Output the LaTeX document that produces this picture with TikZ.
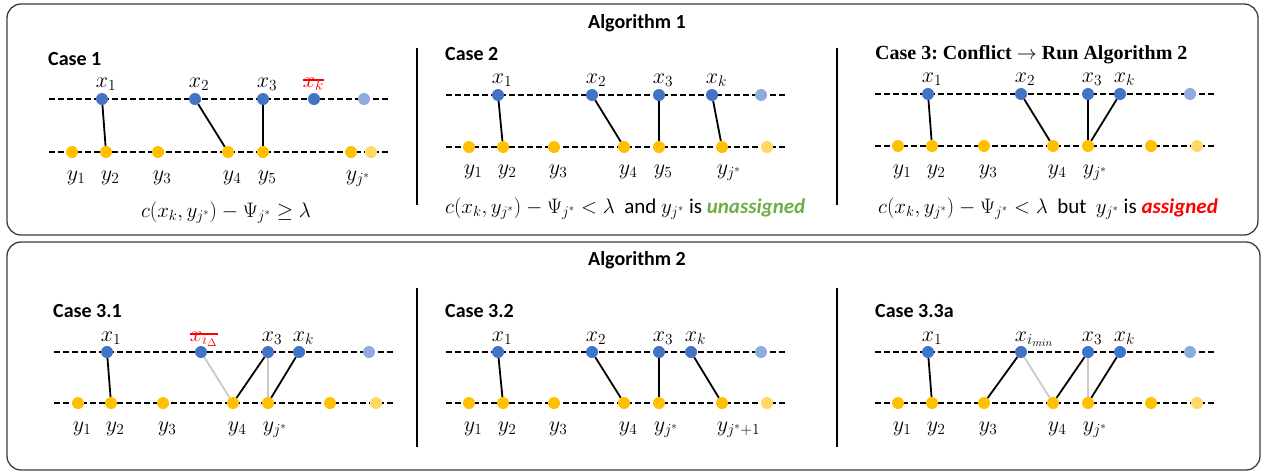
\RequirePackage{fix-cm}
\documentclass[tikz,border=0pt]{standalone}
\usepackage{fontspec}
\setmainfont{Carlito}
\newfontfamily\serifbold{Liberation Serif}
\definecolor{dblue}{HTML}{4472C4}
\definecolor{lblue}{HTML}{8FAADC}
\definecolor{dyel}{HTML}{FFC000}
\definecolor{lyel}{HTML}{FFD966}
\definecolor{egray}{HTML}{CACACA}
\definecolor{okgreen}{HTML}{70AD47}
\definecolor{boxgray}{HTML}{3C3C3C}
\tikzset{
  bdot/.style={circle,fill=dblue,inner sep=0,minimum size=12pt},
  lbdot/.style={circle,fill=lblue,inner sep=0,minimum size=12pt},
  ydot/.style={circle,fill=dyel,inner sep=0,minimum size=12pt},
  lydot/.style={circle,fill=lyel,inner sep=0,minimum size=12pt},
  dline/.style={black,line width=1.1pt,dash pattern=on 5.5pt off 3.5pt},
  medge/.style={black,line width=1.8pt},
  gedge/.style={egray,line width=1.8pt},
  lbl/.style={inner sep=0,font=\fontsize{22}{26}\selectfont},
  xlab/.style={lbl,anchor=base west,xshift=-6.3pt},
  ylab/.style={lbl,anchor=base west,xshift=-5.4pt},
  title/.style={inner sep=0,font=\fontsize{20}{24}\selectfont\bfseries},
  case/.style={inner sep=0,anchor=base west,font=\fontsize{20}{24}\selectfont\bfseries},
  frm/.style={inner sep=0,anchor=base west,font=\fontsize{21}{25}\selectfont},
  sepline/.style={black,line width=1.3pt},
  panelbox/.style={boxgray,line width=1.3pt,rounded corners=14pt},
  strike/.style={red,line width=1.2pt}
}
\begin{document}
\begin{tikzpicture}[x=1pt,y=-1pt]
\useasboundingbox (0,0) rectangle (1263,472);
% boxes
\draw[panelbox] (7,4) rectangle (1258,235);
\draw[panelbox] (7,242) rectangle (1260,470);
\node[title] (t1) at (637,23) {Algorithm 1};
\node[title] (t2) at (637,260) {Algorithm 2};
\draw[sepline] (417,48) -- (417,205);
\draw[sepline] (837,48) -- (837,205);
\draw[sepline] (417,288) -- (417,447);
\draw[sepline] (837,288) -- (837,447);

% ================= Panel 1: Case 1
\node[case] (a-c) at (48,65) {Case 1};
\draw[dline] (49,99) -- (389,99);
\draw[dline] (49,152) -- (389,152);
\node[bdot] (a-x1) at (102,99) {};
\node[bdot] (a-x2) at (195,99) {};
\node[bdot] (a-x3) at (263,99) {};
\node[bdot] (a-xk) at (314,99) {};
\node[lbdot] (a-xe) at (364,99) {};
\node[ydot] (a-y1) at (72,152) {};
\node[ydot] (a-y2) at (106,152) {};
\node[ydot] (a-y3) at (158,152) {};
\node[ydot] (a-y4) at (228,152) {};
\node[ydot] (a-y5) at (263,152) {};
\node[ydot] (a-y6) at (351,152) {};
\node[lydot] (a-ye) at (371,152) {};
\draw[medge] (a-x1) -- (a-y2);
\draw[medge] (a-x2) -- (a-y4);
\draw[medge] (a-x3) -- (a-y5);
\node[xlab] (a-lx1) at (102,87) {$x_1$};
\node[xlab] (a-lx2) at (195,87) {$x_2$};
\node[xlab] (a-lx3) at (263,87) {$x_3$};
\node[xlab,text=red] (a-lxk) at (309,87) {$x_k$};
\draw[strike] ([yshift=7pt]a-lxk.base west) -- ([yshift=7pt]a-lxk.base east);
\node[ylab] (a-ly1) at (72,180) {$y_1$};
\node[ylab] (a-ly2) at (106,180) {$y_2$};
\node[ylab] (a-ly3) at (158,180) {$y_3$};
\node[ylab] (a-ly4) at (228,180) {$y_4$};
\node[ylab] (a-ly5) at (263,180) {$y_5$};
\node[ylab] (a-ly6) at (351,180) {$y_{j^*}$};
\node[frm,anchor=base] (a-f) at (226,217) {$c\bigl(x_k,y_{j^*}\bigr)-\Psi_{j^*}\geq\lambda$};

% ================= Panel 2: Case 2
\node[case] (b-c) at (445,60) {Case 2};
\draw[dline] (446,95) -- (787,95);
\draw[dline] (446,147) -- (787,147);
\node[bdot] (b-x1) at (498,95) {};
\node[bdot] (b-x2) at (592,95) {};
\node[bdot] (b-x3) at (659,95) {};
\node[bdot] (b-xk) at (712,95) {};
\node[lbdot] (b-xe) at (761,95) {};
\node[ydot] (b-y1) at (469,147) {};
\node[ydot] (b-y2) at (503,147) {};
\node[ydot] (b-y3) at (554,147) {};
\node[ydot] (b-y4) at (624,147) {};
\node[ydot] (b-y5) at (659,147) {};
\node[ydot] (b-y6) at (722,147) {};
\node[lydot] (b-ye) at (767,147) {};
\draw[medge] (b-x1) -- (b-y2);
\draw[medge] (b-x2) -- (b-y4);
\draw[medge] (b-x3) -- (b-y5);
\draw[medge] (b-xk) -- (b-y6);
\node[xlab] (b-lx1) at (498,83) {$x_1$};
\node[xlab] (b-lx2) at (592,83) {$x_2$};
\node[xlab] (b-lx3) at (659,83) {$x_3$};
\node[xlab] (b-lxk) at (712,83) {$x_k$};
\node[ylab] (b-ly1) at (469,174) {$y_1$};
\node[ylab] (b-ly2) at (503,174) {$y_2$};
\node[ylab] (b-ly3) at (554,174) {$y_3$};
\node[ylab] (b-ly4) at (624,174) {$y_4$};
\node[ylab] (b-ly5) at (659,174) {$y_5$};
\node[ylab] (b-ly6) at (722,174) {$y_{j^*}$};
\node[frm] (b-f) at (445,213) {$c\bigl(x_k,y_{j^*}\bigr)-\Psi_{j^*}<\lambda$\ \ and $y_{j^*}$ is \textcolor{okgreen}{\textbf{\textit{unassigned}}}};

% ================= Panel 3: Case 3
\node[case,font=\fontsize{20}{24}\selectfont\serifbold\bfseries] (c-c) at (875,59) {Case 3:\ Conflict $\rightarrow$ Run Algorithm 2};
\draw[dline] (875,94) -- (1216,94);
\draw[dline] (875,146) -- (1216,146);
\node[bdot] (c-x1) at (928,94) {};
\node[bdot] (c-x2) at (1021,94) {};
\node[bdot] (c-x3) at (1088,94) {};
\node[bdot] (c-xk) at (1120,94) {};
\node[lbdot] (c-xe) at (1190,94) {};
\node[ydot] (c-y1) at (898,146) {};
\node[ydot] (c-y2) at (932,146) {};
\node[ydot] (c-y3) at (984,146) {};
\node[ydot] (c-y4) at (1053,146) {};
\node[ydot] (c-y5) at (1088,146) {};
\node[ydot] (c-y6) at (1151,146) {};
\node[lydot] (c-ye) at (1197,146) {};
\draw[medge] (c-x1) -- (c-y2);
\draw[medge] (c-x2) -- (c-y4);
\draw[medge] (c-x3) -- (c-y5);
\draw[medge] (c-xk) -- (c-y5);
\node[xlab] (c-lx1) at (928,82) {$x_1$};
\node[xlab] (c-lx2) at (1021,82) {$x_2$};
\node[xlab] (c-lx3) at (1088,82) {$x_3$};
\node[xlab] (c-lxk) at (1120,82) {$x_k$};
\node[ylab] (c-ly1) at (898,174) {$y_1$};
\node[ylab] (c-ly2) at (932,174) {$y_2$};
\node[ylab] (c-ly3) at (984,174) {$y_3$};
\node[ylab] (c-ly4) at (1053,174) {$y_4$};
\node[ylab] (c-ly5) at (1088,174) {$y_{j^*}$};
\node[frm] (c-f) at (878,213) {$c\bigl(x_k,y_{j^*}\bigr)-\Psi_{j^*}<\lambda$\ \ but\ \ $y_{j^*}$ is \textcolor{red}{\textbf{\textit{assigned}}}};

% ================= Panel 4: Case 3.1
\node[case] (d-c) at (53,317) {Case 3.1};
\draw[dline] (54,352) -- (395,352);
\draw[dline] (54,403) -- (395,403);
\node[bdot] (d-x1) at (107,352) {};
\node[bdot] (d-x2) at (201,352) {};
\node[bdot] (d-x3) at (268,352) {};
\node[bdot] (d-xk) at (299,352) {};
\node[lbdot] (d-xe) at (369,352) {};
\node[ydot] (d-y1) at (78,403) {};
\node[ydot] (d-y2) at (111,403) {};
\node[ydot] (d-y3) at (163,403) {};
\node[ydot] (d-y4) at (233,403) {};
\node[ydot] (d-y5) at (268,403) {};
\node[ydot] (d-y6) at (330,403) {};
\node[lydot] (d-ye) at (376,403) {};
\draw[gedge] (d-x2) -- (d-y4);
\draw[gedge] (d-x3) -- (d-y5);
\draw[medge] (d-x1) -- (d-y2);
\draw[medge] (d-x3) -- (d-y4);
\draw[medge] (d-xk) -- (d-y5);
\node[xlab,text=red] (d-lx2) at (196,341) {$x_{i_\Delta}$};
\draw[strike] ([yshift=7pt]d-lx2.base west) -- ([yshift=7pt]d-lx2.base east);
\node[xlab] (d-lx3) at (268,341) {$x_3$};
\node[xlab] (d-lxk) at (299,341) {$x_k$};
\node[xlab] (d-lx1) at (107,341) {$x_1$};
\node[ylab] (d-ly1) at (78,431) {$y_1$};
\node[ylab] (d-ly2) at (111,431) {$y_2$};
\node[ylab] (d-ly3) at (163,431) {$y_3$};
\node[ylab] (d-ly4) at (233,431) {$y_4$};
\node[ylab] (d-ly5) at (268,431) {$y_{j^*}$};

% ================= Panel 5: Case 3.2
\node[case] (e-c) at (445,317) {Case 3.2};
\draw[dline] (446,352) -- (787,352);
\draw[dline] (446,403) -- (787,403);
\node[bdot] (e-x1) at (498,352) {};
\node[bdot] (e-x2) at (592,352) {};
\node[bdot] (e-x3) at (659,352) {};
\node[bdot] (e-xk) at (691,352) {};
\node[lbdot] (e-xe) at (761,352) {};
\node[ydot] (e-y1) at (469,403) {};
\node[ydot] (e-y2) at (503,403) {};
\node[ydot] (e-y3) at (554,403) {};
\node[ydot] (e-y4) at (624,403) {};
\node[ydot] (e-y5) at (659,403) {};
\node[ydot] (e-y6) at (722,403) {};
\node[lydot] (e-ye) at (767,403) {};
\draw[medge] (e-x1) -- (e-y2);
\draw[medge] (e-x2) -- (e-y4);
\draw[medge] (e-x3) -- (e-y5);
\draw[medge] (e-xk) -- (e-y6);
\node[xlab] (e-lx1) at (498,341) {$x_1$};
\node[xlab] (e-lx2) at (592,341) {$x_2$};
\node[xlab] (e-lx3) at (659,341) {$x_3$};
\node[xlab] (e-lxk) at (691,341) {$x_k$};
\node[ylab] (e-ly1) at (469,431) {$y_1$};
\node[ylab] (e-ly2) at (503,431) {$y_2$};
\node[ylab] (e-ly3) at (554,431) {$y_3$};
\node[ylab] (e-ly4) at (624,431) {$y_4$};
\node[ylab] (e-ly5) at (659,431) {$y_{j^*}$};
\node[ylab] (e-ly6) at (722,431) {$y_{j^*+1}$};

% ================= Panel 6: Case 3.3a
\node[case] (f-c) at (875,317) {Case 3.3a};
\draw[dline] (875,352) -- (1216,352);
\draw[dline] (875,403) -- (1216,403);
\node[bdot] (f-x1) at (928,352) {};
\node[bdot] (f-x2) at (1021,352) {};
\node[bdot] (f-x3) at (1088,352) {};
\node[bdot] (f-xk) at (1120,352) {};
\node[lbdot] (f-xe) at (1190,352) {};
\node[ydot] (f-y1) at (898,403) {};
\node[ydot] (f-y2) at (932,403) {};
\node[ydot] (f-y3) at (984,403) {};
\node[ydot] (f-y4) at (1053,403) {};
\node[ydot] (f-y5) at (1088,403) {};
\node[ydot] (f-y6) at (1151,403) {};
\node[lydot] (f-ye) at (1197,403) {};
\draw[gedge] (f-x2) -- (f-y4);
\draw[gedge] (f-x3) -- (f-y5);
\draw[medge] (f-x1) -- (f-y2);
\draw[medge] (f-x2) -- (f-y3);
\draw[medge] (f-x3) -- (f-y4);
\draw[medge] (f-xk) -- (f-y5);
\node[xlab] (f-lx1) at (928,341) {$x_1$};
\node[xlab] (f-lx2) at (1021,341) {$x_{i_{min}}$};
\node[xlab] (f-lx3) at (1088,341) {$x_3$};
\node[xlab] (f-lxk) at (1120,341) {$x_k$};
\node[ylab] (f-ly1) at (898,431) {$y_1$};
\node[ylab] (f-ly2) at (932,431) {$y_2$};
\node[ylab] (f-ly3) at (984,431) {$y_3$};
\node[ylab] (f-ly4) at (1053,431) {$y_4$};
\node[ylab] (f-ly5) at (1088,431) {$y_{j^*}$};
\end{tikzpicture}
\end{document}
